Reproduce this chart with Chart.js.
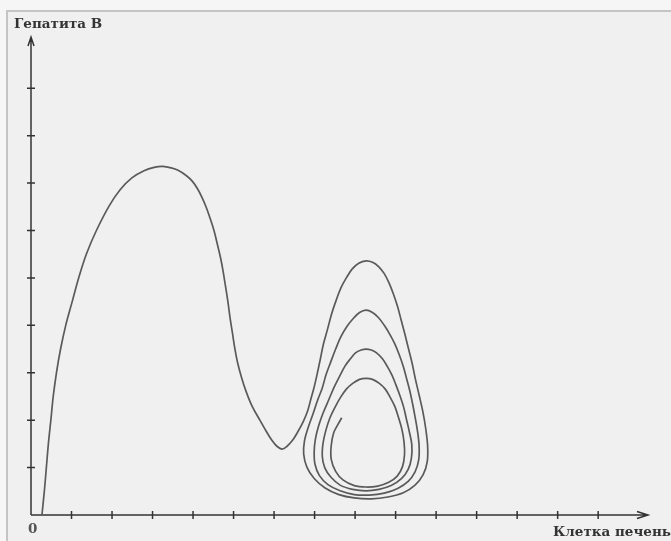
<!DOCTYPE html>
<html lang="ru">
<head>
  <meta charset="UTF-8">
  <title>Гепатита В</title>
  <style>
    body {
      margin: 0;
      padding: 0;
      width: 671px;
      height: 541px;
      overflow: hidden;
      background-color: #f6f6f6;
      position: relative;
    }
    .panel {
      position: absolute;
      left: 6px;
      top: 10px;
      right: 0;
      bottom: 0;
      background-color: #f0f0f0;
      border-top: 2px solid #c4c4c4;
      border-left: 2px solid #c4c4c4;
    }
    canvas {
      position: absolute;
      left: 0;
      top: 0;
    }
    .label {
      position: absolute;
      font-family: 'DejaVu Serif', serif;
      font-weight: bold;
      font-size: 13.5px;
      line-height: 14px;
      color: #333;
      white-space: nowrap;
    }
  </style>
  <script src="https://cdn.jsdelivr.net/npm/chart.js"></script>
</head>
<body>
  <div class="panel"></div>
  <canvas id="phaseChart" width="671" height="541"></canvas>
  <div class="label" style="left:14px; top:16px;">Гепатита В</div>
  <div class="label" style="left:28px; top:521px; color:#555;">0</div>
  <div class="label" style="left:553px; top:524px;">Клетка печень</div>

  <script>
    // tick marks along each axis (no numbers, only the marks)
    const xTicks = [1, 2, 3, 4, 5, 6, 7, 8, 9, 10, 11, 12, 13, 14];
    const yTicks = [1, 2, 3, 4, 5, 6, 7, 8, 9];

    // first hump, from the origin down to the valley
    const humpX = [0.27, 0.33, 0.38, 0.43, 0.49, 0.55, 0.63, 0.73, 0.86, 1.02, 1.18, 1.37, 1.62, 1.93, 2.20, 2.49, 2.79, 3.04, 3.25,
                   3.46, 3.63, 3.83, 3.98, 4.11, 4.22, 4.32, 4.42, 4.52, 4.60, 4.68, 4.74, 4.80, 4.86, 4.91, 4.97, 5.03, 5.10, 5.20, 5.32, 5.46, 5.65, 5.81, 5.95, 6.07, 6.20];
    const humpY = [0, 0.51, 1.01, 1.51, 2.00, 2.51, 3.01, 3.50, 4.01, 4.51, 5.01, 5.51, 6.01, 6.52, 6.86, 7.11, 7.26, 7.33, 7.35,
                   7.32, 7.27, 7.16, 7.04, 6.88, 6.70, 6.50, 6.26, 5.99, 5.71, 5.42, 5.15, 4.83, 4.50, 4.18, 3.85, 3.52, 3.21, 2.89, 2.58, 2.29, 2.00, 1.76, 1.57, 1.45, 1.39];

    // spiral winding inwards after the valley, one line per half turn
    const spiralX = [
      6.32, 6.46, 6.59, 6.72, 6.83, 6.91, 6.99, 7.06, 7.14, 7.22, 7.32, 7.42, 7.53, 7.65, 7.79, 7.93, 8.09, 8.27,
      8.43, 8.58, 8.72, 8.84, 8.95, 9.05, 9.14, 9.23, 9.32, 9.41, 9.49, 9.58, 9.67, 9.74, 9.79, 9.78, 9.68, 9.48, 9.19, 8.81, 8.40, 7.98, 7.60, 7.26, 6.99, 6.81, 6.73,
      6.75, 6.84, 6.96, 7.07, 7.19, 7.28, 7.40, 7.52, 7.65, 7.81, 7.96, 8.11, 8.27,
      8.43, 8.58, 8.72, 8.85, 8.98, 9.09, 9.19, 9.27, 9.35, 9.42, 9.48, 9.54, 9.58, 9.57, 9.48, 9.31, 9.05, 8.72, 8.35, 7.98, 7.63, 7.33, 7.12, 7.01, 6.99,
      7.02, 7.10, 7.21, 7.35, 7.48, 7.62, 7.75, 7.89, 8.01, 8.15, 8.27,
      8.40, 8.53, 8.67, 8.79, 8.91, 9.01, 9.11, 9.20, 9.27, 9.34, 9.40, 9.39, 9.31, 9.15, 8.89, 8.59, 8.27, 7.94, 7.63, 7.40, 7.25, 7.19,
      7.21, 7.28, 7.38, 7.51, 7.64, 7.79, 7.95, 8.11, 8.27,
      8.43, 8.59, 8.74, 8.86, 8.98, 9.07, 9.16, 9.21, 9.22, 9.17, 9.04, 8.83, 8.56, 8.27, 7.98, 7.70, 7.52, 7.41, 7.41, 7.47, 7.57, 7.67
    ];
    const spiralY = [
      1.45, 1.58, 1.76, 1.97, 2.20, 2.45, 2.70, 2.96, 3.28, 3.61, 3.92, 4.24, 4.52, 4.79, 5.01, 5.19, 5.31, 5.36,
      5.33, 5.24, 5.09, 4.89, 4.65, 4.39, 4.10, 3.81, 3.50, 3.19, 2.86, 2.53, 2.19, 1.84, 1.46, 1.12, 0.85, 0.63, 0.47, 0.38, 0.34, 0.36, 0.43, 0.57, 0.77, 1.01, 1.29,
      1.56, 1.84, 2.13, 2.41, 2.68, 2.95, 3.23, 3.50, 3.76, 3.99, 4.15, 4.27, 4.32,
      4.27, 4.16, 4.00, 3.82, 3.61, 3.38, 3.13, 2.88, 2.62, 2.34, 2.07, 1.77, 1.46, 1.16, 0.91, 0.71, 0.56, 0.46, 0.42, 0.43, 0.51, 0.64, 0.83, 1.07, 1.33,
      1.60, 1.88, 2.15, 2.43, 2.69, 2.93, 3.14, 3.30, 3.42, 3.48, 3.50,
      3.48, 3.42, 3.30, 3.14, 2.95, 2.74, 2.51, 2.27, 2.01, 1.75, 1.48, 1.20, 0.96, 0.77, 0.62, 0.54, 0.51, 0.54, 0.63, 0.80, 1.00, 1.24,
      1.52, 1.79, 2.05, 2.28, 2.48, 2.66, 2.78, 2.86, 2.88,
      2.86, 2.78, 2.66, 2.49, 2.29, 2.06, 1.79, 1.52, 1.27, 1.02, 0.82, 0.69, 0.61, 0.59, 0.62, 0.74, 0.92, 1.18, 1.46, 1.73, 1.90, 2.05
    ];

    const allX = humpX.concat(spiralX);
    const allY = humpY.concat(spiralY);
    const points = allX.map((v, i) => ({ x: v, y: allY[i] }));

    // axes with arrow heads and cross ticks
    const arrowAxes = {
      id: 'arrowAxes',
      beforeDatasetsDraw(chart) {
        const { ctx, scales: { x, y } } = chart;
        const x0 = x.getPixelForValue(0);
        const y0 = y.getPixelForValue(0);
        const xEnd = x.getPixelForValue(x.max);
        const yEnd = y.getPixelForValue(y.max);
        ctx.save();
        ctx.strokeStyle = '#333';
        ctx.lineWidth = 1.5;
        ctx.beginPath();
        ctx.moveTo(x0, y0);
        ctx.lineTo(xEnd, y0);
        ctx.moveTo(x0, y0);
        ctx.lineTo(x0, yEnd);
        ctx.moveTo(xEnd - 11, y0 - 3.5);
        ctx.lineTo(xEnd, y0);
        ctx.lineTo(xEnd - 11, y0 + 3.5);
        ctx.moveTo(x0 - 3, yEnd + 9);
        ctx.lineTo(x0, yEnd);
        ctx.lineTo(x0 + 3, yEnd + 9);
        xTicks.forEach(v => {
          const px = x.getPixelForValue(v);
          ctx.moveTo(px, y0 - 4);
          ctx.lineTo(px, y0 + 4);
        });
        yTicks.forEach(v => {
          const py = y.getPixelForValue(v);
          ctx.moveTo(x0 - 4, py);
          ctx.lineTo(x0 + 4, py);
        });
        ctx.stroke();
        ctx.restore();
      }
    };

    const phaseCtx = document.getElementById('phaseChart').getContext('2d');
    const phaseChart = new Chart(phaseCtx, {
      type: 'scatter',
      data: {
        datasets: [{
          label: 'Гепатита В',
          data: points,
          showLine: true,
          borderColor: '#5a5a5a',
          borderWidth: 1.7,
          pointRadius: 0,
          tension: 0.35,
          fill: false,
          clip: 6
        }]
      },
      options: {
        responsive: false,
        animation: false,
        layout: {
          padding: { left: 31, top: 37, right: 23, bottom: 26 }
        },
        scales: {
          x: { type: 'linear', min: 0, max: 15.23, display: false },
          y: { type: 'linear', min: 0, max: 10.08, display: false }
        },
        plugins: {
          legend: { display: false },
          tooltip: { enabled: false }
        }
      },
      plugins: [arrowAxes]
    });
  </script>
</body>
</html>
